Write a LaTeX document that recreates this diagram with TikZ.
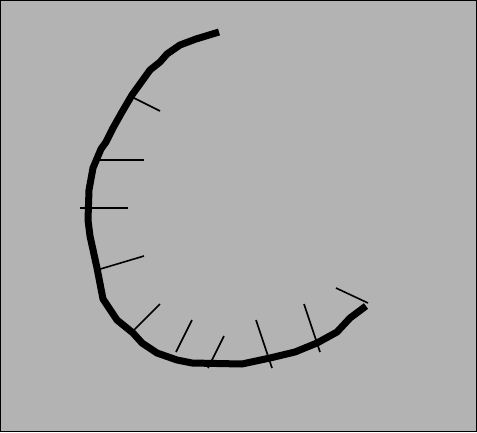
\documentclass[tikz,border=0pt]{standalone}
\usetikzlibrary{calc}
\definecolor{paper}{RGB}{179, 179, 179}

\begin{document}
\begin{tikzpicture}[
	x=1pt, y=-1pt,
	% Styles for the frame, the thick arc and the ticks
	frame/.style={draw=black, line width=1pt, fill=paper},
	arcline/.style={draw=black, line width=7pt, line join=round},
	tickline/.style={draw=black, line width=1.6pt}
	]
	
	% ==========================================
	% 1. BACKGROUND PANEL
	% ==========================================
	\useasboundingbox (0, 0) rectangle (477, 432);
	\draw[frame] (0.5, 0.5) rectangle (476.5, 431.5);
	
	% ==========================================
	% 2. THICK OPEN ARC
	% ==========================================
	\draw[arcline] (219, 32) -- (196, 39) -- (180, 45) -- (167, 54) -- (160, 62)
		-- (150, 70) -- (132, 95) -- (122, 112) -- (113, 128) -- (106, 142)
		-- (101, 149) -- (93, 168) -- (89, 190) -- (88, 220) -- (90, 236)
		-- (97, 268) -- (103, 299) -- (117, 320) -- (133, 333) -- (142, 343)
		-- (157, 353) -- (177, 360) -- (192, 363) -- (242, 364) -- (270, 358)
		-- (295, 352) -- (317, 343) -- (337, 332) -- (350, 318) -- (366, 306);
	
	% ==========================================
	% 3. TICK MARKS ALONG THE ARC
	% ==========================================
	\draw[tickline] (132, 97) -- (160, 111);
	\draw[tickline] (100, 160) -- (144, 160);
	\draw[tickline] (80, 208) -- (128, 208);
	\draw[tickline] (97, 270) -- (144, 256);
	\draw[tickline] (133, 331) -- (160, 304);
	\draw[tickline] (176, 352) -- (192, 320);
	\draw[tickline] (208, 368) -- (224, 336);
	\draw[tickline] (272, 368) -- (256, 320);
	\draw[tickline] (320, 352) -- (304, 304);
	\draw[tickline] (368, 303) -- (336, 288);
\end{tikzpicture}
\end{document}
